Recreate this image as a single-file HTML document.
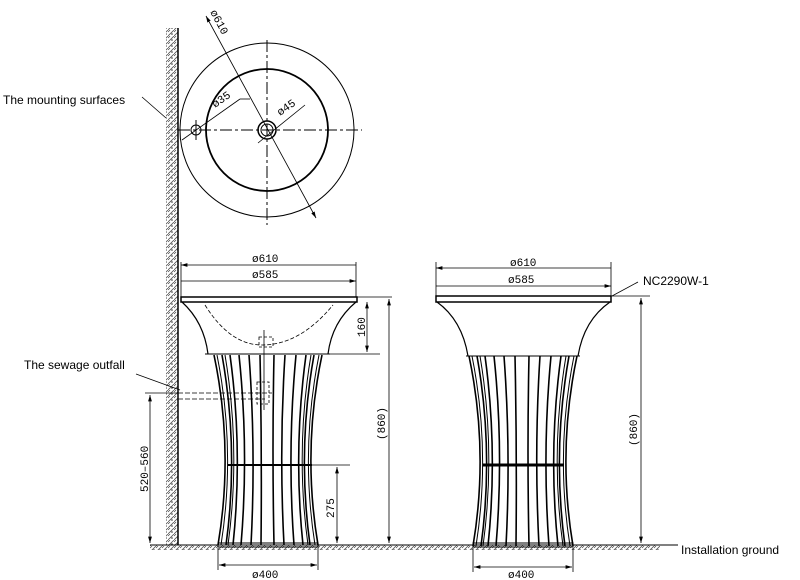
<!DOCTYPE html>
<html><head><meta charset="utf-8"><style>
html,body{margin:0;padding:0;background:#fff}
svg{display:block}
text{font-family:"Liberation Sans",sans-serif;fill:#000}
.m{font-family:"Liberation Mono",monospace;font-size:11px}
</style></head><body>
<svg width="800" height="580" viewBox="0 0 800 580" xmlns="http://www.w3.org/2000/svg">
<defs>
<pattern id="h" width="6" height="6" patternUnits="userSpaceOnUse">
<rect width="6" height="6" fill="#fff"/><path d="M0 6L6 0M0 2L2 0" stroke="#555" stroke-width="0.8"/><circle cx="4" cy="4" r="0.8" fill="#333"/>
</pattern>
<marker id="a" viewBox="0 0 10 6" refX="10" refY="3" markerWidth="8" markerHeight="5" orient="auto-start-reverse"><path d="M0 0L10 3L0 6z" fill="#000"/></marker>
<g id="bars" fill="none" stroke="#000" stroke-width="1.6">
<path d="M-54 355Q-34 450-50 545M-46 355Q-29 450-42 545M-38 355Q-25 450-35 545M-29 355Q-19 450-27 545M-19 355Q-12 450-17 545M-8 355Q-6 450-7 545M6 355Q4 450 6 545M17 355Q11 450 16 545M28 355Q19 450 26 545M38 355Q25 450 35 545M46 355Q29 450 42 545M54 355Q34 450 50 545"/>
<path d="M-51 355Q-32 450-47 545M51 355Q32 450 47 545M-43 355Q-27 450-40 545M43 355Q27 450 40 545" stroke-width="1"/>
</g>
</defs>
<rect x="166" y="28" width="12" height="520" fill="url(#h)"/>
<line x1="178" y1="28" x2="178" y2="548" stroke="#000" stroke-width="1.5"/>
<rect x="150" y="545" width="510" height="5" fill="url(#h)"/>
<line x1="150" y1="545" x2="678" y2="545" stroke="#000" stroke-width="1"/>
<g fill="none" stroke="#000">
<circle cx="267" cy="130" r="87" stroke-width="1"/>
<circle cx="267" cy="130" r="61" stroke-width="1.8"/>
<circle cx="267" cy="130" r="9" stroke-width="1.5"/><circle cx="267" cy="130" r="6"/>
<path d="M178 130H362M267 40V225" stroke-dasharray="12 3 3 3" stroke-width="1"/>
<line x1="206" y1="16" x2="316" y2="218" stroke-width="0.8" marker-start="url(#a)" marker-end="url(#a)"/>
<line x1="182" y1="140" x2="240" y2="99" stroke-width="0.8"/>
<line x1="240" y1="99" x2="250" y2="99" stroke-width="0.8"/>
<line x1="258" y1="143" x2="305" y2="105" stroke-width="0.8"/>
<circle cx="196" cy="130" r="5"/><line x1="196" y1="120" x2="196" y2="140"/>
<line x1="142" y1="97" x2="166" y2="118" stroke-width="0.8"/>
</g>
<text x="210" y="12" class="m" transform="rotate(62 210 12)">ø610</text>
<text x="215" y="108" class="m" transform="rotate(-35 215 108)">ø35</text>
<text x="280" y="116" class="m" transform="rotate(-35 280 116)">ø45</text>
<text x="3" y="104" font-size="12">The mounting surfaces</text>
<g fill="none" stroke="#000">
<rect x="181" y="297" width="176" height="5" stroke-width="1.5"/>
<path d="M182 302Q204 322 208 354M356 302Q332 322 328 354" stroke-width="1.2"/>
<line x1="205" y1="354" x2="330" y2="354" stroke-width="1"/>
<path d="M205 305Q230 345 262 345Q300 345 333 305" stroke-dasharray="4 2" stroke-width="0.8"/>
<use href="#bars" x="268"/>
<line x1="228" y1="465" x2="312" y2="465" stroke-width="2"/>
<rect x="218" y="543" width="100" height="4" stroke-width="1"/>
<path d="M178 393H272M178 399H265" stroke-dasharray="5 2" stroke-width="0.8"/>
<rect x="259" y="337" width="14" height="10" stroke-dasharray="3 2" stroke-width="0.8"/>
<rect x="257" y="382" width="12" height="22" stroke-dasharray="3 2" stroke-width="0.8"/>
<line x1="264" y1="330" x2="264" y2="410" stroke-width="0.8"/>
<line x1="136" y1="374" x2="180" y2="390" stroke-width="0.8"/>
<path d="M181 265H356M181 281H356" stroke-width="0.8" marker-start="url(#a)" marker-end="url(#a)"/>
<path d="M356 262V297M181 262V297" stroke-width="0.8"/>
<path d="M357 297H392M330 354H380" stroke-width="0.8"/>
<line x1="367" y1="302" x2="367" y2="352" stroke-width="0.8" marker-start="url(#a)" marker-end="url(#a)"/>
<line x1="389" y1="299" x2="389" y2="543" stroke-width="0.8" marker-start="url(#a)" marker-end="url(#a)"/>
<line x1="150" y1="395" x2="150" y2="543" stroke-width="0.8" marker-start="url(#a)" marker-end="url(#a)"/>
<line x1="145" y1="393" x2="178" y2="393" stroke-width="0.8"/>
<line x1="312" y1="465" x2="350" y2="465" stroke-width="0.8"/>
<line x1="337" y1="467" x2="337" y2="543" stroke-width="0.8" marker-start="url(#a)" marker-end="url(#a)"/>
<path d="M218 548V570M318 548V570" stroke-width="0.8"/>
<line x1="219" y1="565" x2="317" y2="565" stroke-width="0.8" marker-start="url(#a)" marker-end="url(#a)"/>
</g>
<text x="252" y="262" class="m">ø610</text>
<text x="252" y="278" class="m">ø585</text>
<text x="252" y="578" class="m">ø400</text>
<text x="365" y="337" class="m" transform="rotate(-90 365 337)">160</text>
<text x="385" y="440" class="m" transform="rotate(-90 385 440)">(860)</text>
<text x="148" y="492" class="m" transform="rotate(-90 148 492)">520–560</text>
<text x="334" y="518" class="m" transform="rotate(-90 334 518)">275</text>
<text x="24" y="369" font-size="12">The sewage outfall</text>
<g fill="none" stroke="#000">
<rect x="436" y="296" width="175" height="6" stroke-width="1.5"/>
<path d="M437 302Q462 320 468 356M610 302Q584 320 578 356" stroke-width="1.2"/>
<line x1="466" y1="356" x2="580" y2="356" stroke-width="1"/>
<use href="#bars" x="523" y="1"/>
<line x1="483" y1="465" x2="564" y2="465" stroke-width="3"/>
<rect x="473" y="543" width="100" height="4" stroke-width="1"/>
<path d="M436 268H611M436 286H611" stroke-width="0.8" marker-start="url(#a)" marker-end="url(#a)"/>
<path d="M436 262V296M611 262V296M611 296H650" stroke-width="0.8"/>
<path d="M612 296L638 282" stroke-width="0.8"/>
<line x1="641" y1="298" x2="641" y2="543" stroke-width="0.8" marker-start="url(#a)" marker-end="url(#a)"/>
<path d="M473 548V572M573 548V572" stroke-width="0.8"/>
<line x1="474" y1="567" x2="572" y2="567" stroke-width="0.8" marker-start="url(#a)" marker-end="url(#a)"/>
</g>
<text x="510" y="266" class="m">ø610</text>
<text x="508" y="283" class="m">ø585</text>
<text x="508" y="578" class="m">ø400</text>
<text x="643" y="285" font-family="Liberation Serif" font-size="12">NC2290W-1</text>
<text x="637" y="446" class="m" transform="rotate(-90 637 446)">(860)</text>
<text x="681" y="554" font-size="12">Installation ground</text>
</svg>
</body></html>
